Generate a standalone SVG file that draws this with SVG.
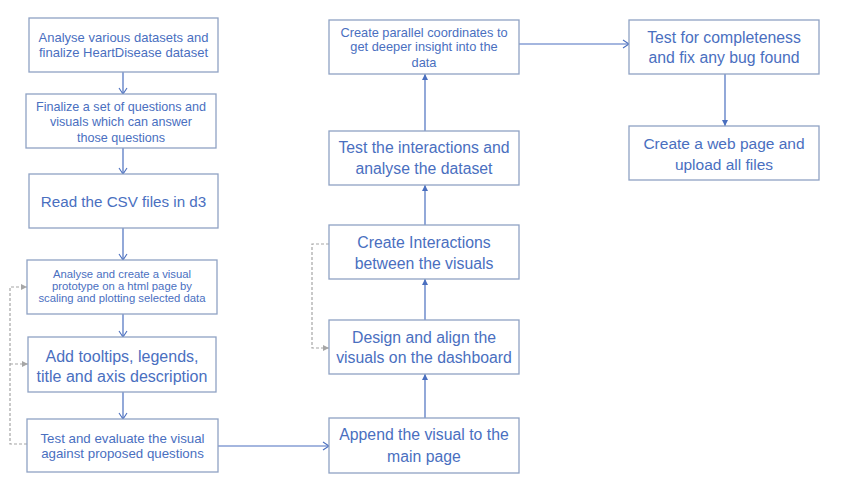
<svg xmlns="http://www.w3.org/2000/svg" width="841" height="487" viewBox="0 0 841 487">
<style>
.box{fill:#fff;stroke:#8fa2c4;stroke-width:1.3}
text{font-family:"Liberation Sans",Arial,sans-serif;fill:#4a6fbf;text-anchor:middle}
.c{fill:none;stroke:#4a6fbf;stroke-width:1.2}
.d{fill:none;stroke:#a6a6a6;stroke-width:1.2;stroke-dasharray:3,2}
</style>
<defs>
<marker id="v" markerWidth="10" markerHeight="10" refX="8" refY="5" orient="auto" markerUnits="userSpaceOnUse">
<path d="M2,1 L8,5 L2,9" fill="none" stroke="#4a6fbf" stroke-width="1.1"/>
</marker>
<marker id="t" markerWidth="8" markerHeight="8" refX="6" refY="4" orient="auto" markerUnits="userSpaceOnUse">
<path d="M0,1 L6,4 L0,7 Z" fill="#4a6fbf"/>
</marker>
<marker id="g" markerWidth="8" markerHeight="8" refX="6" refY="4" orient="auto" markerUnits="userSpaceOnUse">
<path d="M0,1 L6,4 L0,7 Z" fill="#a6a6a6"/>
</marker>
</defs>
<rect width="841" height="487" fill="#fff"/>
<g id="connectors">
<path class="c" d="M123,72 V94" marker-end="url(#v)"/>
<path class="c" d="M123,148 V174" marker-end="url(#v)"/>
<path class="c" d="M123,228 V260" marker-end="url(#v)"/>
<path class="c" d="M123,314 V337" marker-end="url(#v)"/>
<path class="c" d="M123,392 V419" marker-end="url(#v)"/>
<path class="c" d="M218,446 H329" marker-end="url(#v)"/>
<path class="c" d="M425,418 V374" marker-end="url(#t)"/>
<path class="c" d="M425,320 V279" marker-end="url(#t)"/>
<path class="c" d="M425,225 V185" marker-end="url(#t)"/>
<path class="c" d="M425,131 V74" marker-end="url(#t)"/>
<path class="c" d="M519,44 H629" marker-end="url(#v)"/>
<path class="c" d="M725,74 V126" marker-end="url(#t)"/>
<path class="d" d="M27,444 H10 V287 H27" marker-end="url(#g)"/>
<path class="d" d="M10,364 H28" marker-end="url(#g)"/>
<path class="d" d="M329,244 H312 V348 H329" marker-end="url(#g)"/>
</g>
<g id="n1"><rect class="box" x="29" y="18" width="189" height="54"/>
<text font-size="13" x="123.5" y="41.5">Analyse various datasets and</text>
<text font-size="13" x="123.5" y="56.5">finalize HeartDisease dataset</text></g>
<g id="n2"><rect class="box" x="26" y="94" width="190" height="54"/>
<text font-size="12.6" x="121" y="110.5">Finalize a set of questions and</text>
<text font-size="12.6" x="121" y="125.5">visuals which can answer</text>
<text font-size="12.6" x="121" y="141.5">those questions</text></g>
<g id="n3"><rect class="box" x="29" y="174" width="189" height="54"/>
<text font-size="15.2" x="123.5" y="206.5">Read the CSV files in d3</text></g>
<g id="n4"><rect class="box" x="27" y="260" width="190" height="54"/>
<text font-size="11.3" x="122" y="278">Analyse and create a visual</text>
<text font-size="11.3" x="122" y="290">prototype on a html page by</text>
<text font-size="11.3" x="122" y="302">scaling and plotting selected data</text></g>
<g id="n5"><rect class="box" x="28" y="337" width="188" height="55"/>
<text font-size="16" x="122" y="361.5">Add tooltips, legends,</text>
<text font-size="16" x="122" y="381.5">title and axis description</text></g>
<g id="n6"><rect class="box" x="27" y="419" width="191" height="53"/>
<text font-size="13.3" x="122.5" y="442.5">Test and evaluate the visual</text>
<text font-size="13.3" x="122.5" y="457.5">against proposed questions</text></g>
<g id="n7"><rect class="box" x="329" y="418" width="190" height="55"/>
<text font-size="15.8" x="424" y="439.5">Append the visual to the</text>
<text font-size="15.8" x="424" y="461.5">main page</text></g>
<g id="n8"><rect class="box" x="329" y="320" width="190" height="54"/>
<text font-size="15.8" x="424" y="342.5">Design and align the</text>
<text font-size="15.8" x="424" y="362.5">visuals on the dashboard</text></g>
<g id="n9"><rect class="box" x="329" y="225" width="190" height="54"/>
<text font-size="15.8" x="424" y="247.5">Create Interactions</text>
<text font-size="15.8" x="424" y="268.5">between the visuals</text></g>
<g id="n10"><rect class="box" x="329" y="131" width="190" height="54"/>
<text font-size="15.8" x="424" y="152.5">Test the interactions and</text>
<text font-size="15.8" x="424" y="173.5">analyse the dataset</text></g>
<g id="n11"><rect class="box" x="329" y="20" width="190" height="54"/>
<text font-size="12.8" x="424" y="36.5">Create parallel coordinates to</text>
<text font-size="12.8" x="424" y="50.5">get deeper insight into the</text>
<text font-size="12.8" x="424" y="66.5">data</text></g>
<g id="n12"><rect class="box" x="629" y="20" width="190" height="54"/>
<text font-size="15.8" x="724" y="42.5">Test for completeness</text>
<text font-size="15.8" x="724" y="62.5">and fix any bug found</text></g>
<g id="n13"><rect class="box" x="629" y="126" width="190" height="54"/>
<text font-size="15.5" x="724" y="148.5">Create a web page and</text>
<text font-size="15.5" x="724" y="169.5">upload all files</text></g>
</svg>
